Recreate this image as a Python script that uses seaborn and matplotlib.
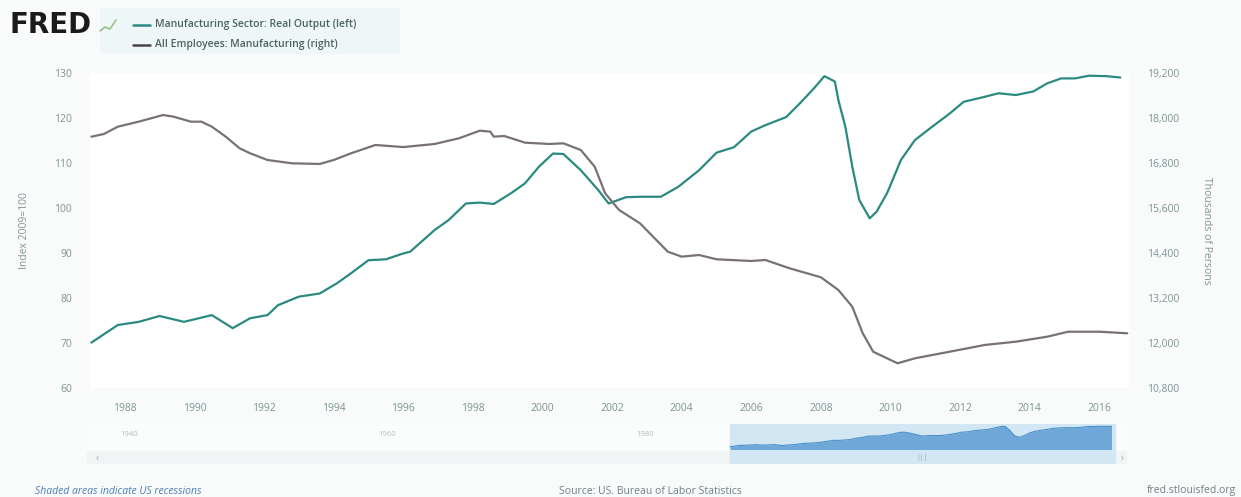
import numpy as np
import pandas as pd
import matplotlib
matplotlib.use("Agg")
import matplotlib.pyplot as plt
from matplotlib.lines import Line2D
from matplotlib.patches import Rectangle
from matplotlib.ticker import FuncFormatter
import seaborn as sns

# ---------------- data ----------------
out_years = [1987.04, 1987.8, 1988.4, 1989.0, 1989.7, 1990.5, 1991.1, 1991.6, 1992.1, 1992.4,
             1993.0, 1993.6, 1994.1, 1994.5, 1995.0, 1995.5, 1996.0, 1996.2, 1996.9, 1997.3,
             1997.8, 1998.2, 1998.6, 1999.1, 1999.5, 1999.9, 2000.3, 2000.6, 2001.1, 2001.6,
             2001.9, 2002.4, 2002.8, 2003.4, 2003.9, 2004.5, 2005.0, 2005.5, 2006.0, 2006.4,
             2007.0, 2007.4, 2007.8, 2008.1, 2008.4, 2008.5, 2008.7, 2008.9, 2009.1, 2009.4,
             2009.6, 2009.9, 2010.3, 2010.7, 2011.2, 2011.7, 2012.1, 2012.7, 2013.1, 2013.6,
             2014.1, 2014.5, 2014.9, 2015.3, 2015.7, 2016.2, 2016.6]
out_values = [70.1, 74.0, 74.7, 76.0, 74.7, 76.2, 73.3, 75.5, 76.2, 78.4,
              80.3, 81.0, 83.3, 85.5, 88.4, 88.6, 89.9, 90.3, 95.1, 97.3,
              101.0, 101.2, 100.9, 103.3, 105.5, 109.2, 112.1, 112.0, 108.4, 104.0,
              101.0, 102.4, 102.5, 102.5, 104.7, 108.4, 112.3, 113.5, 117.0, 118.4,
              120.2, 123.3, 126.6, 129.3, 128.1, 124.0, 118.1, 109.2, 101.8, 97.7,
              99.2, 103.3, 110.7, 115.1, 118.1, 121.0, 123.6, 124.7, 125.5, 125.1,
              125.9, 127.7, 128.8, 128.8, 129.4, 129.3, 129.0]

emp_years = [1987.04, 1987.4, 1987.8, 1988.4, 1989.1, 1989.4, 1989.9, 1990.2, 1990.5, 1990.9,
             1991.3, 1991.6, 1992.1, 1992.8, 1993.6, 1994.0, 1994.5, 1995.2, 1996.0, 1996.9,
             1997.6, 1998.2, 1998.5, 1998.6, 1998.9, 1999.5, 2000.2, 2000.6, 2001.1, 2001.5,
             2001.8, 2002.2, 2002.8, 2003.6, 2004.0, 2004.5, 2005.0, 2006.0, 2006.4, 2007.1,
             2008.0, 2008.5, 2008.9, 2009.2, 2009.5, 2010.2, 2010.7, 2011.7, 2012.7, 2013.6,
             2014.5, 2015.1, 2016.0, 2016.8]
emp_values = [17502, 17574, 17769, 17902, 18080, 18035, 17902, 17902, 17769, 17502,
              17192, 17059, 16880, 16792, 16774, 16880, 17059, 17280, 17225, 17307,
              17459, 17662, 17636, 17502, 17520, 17342, 17307, 17325, 17147, 16702,
              15992, 15547, 15192, 14435, 14302, 14347, 14232, 14187, 14214, 13992,
              13752, 13414, 12968, 12259, 11768, 11459, 11592, 11768, 11947, 12035,
              12168, 12301, 12301, 12259]

left_ticks = [60, 70, 80, 90, 100, 110, 120, 130]
right_ticks = [10800, 12000, 13200, 14400, 15600, 16800, 18000, 19200]
year_ticks = list(range(1988, 2017, 2))
nav_labels = [1940, 1960, 1980]

series_out = "Manufacturing Sector: Real Output (left)"
series_emp = "All Employees: Manufacturing (right)"
left_label = "Index 2009=100"
right_label = "Thousands of Persons"

# ---------------- style ----------------
sns.set_style("white")
plt.rcParams['font.family'] = ['Open Sans', 'DejaVu Sans']

W, H = 1241, 497
c_out = "#2b8a80"
c_emp = "#7a7272"
c_tick = "#7d9494"

fig = plt.figure(figsize=(W / 100, H / 100), dpi=100)
fig.patch.set_facecolor("#f9fbfb")

def fx(px):
    return px / W

def fy(py):
    return 1 - py / H

# main axes
ax = fig.add_axes([fx(90), fy(388), fx(1129 - 90), (388 - 73) / H])
ax.set_facecolor("white")
ax2 = ax.twinx()

df_out = pd.DataFrame({"year": out_years, "value": out_values})
df_emp = pd.DataFrame({"year": emp_years, "value": emp_values})

sns.lineplot(data=df_out, x="year", y="value", ax=ax, color=c_out, linewidth=1.6, legend=False)
sns.lineplot(data=df_emp, x="year", y="value", ax=ax2, color=c_emp, linewidth=1.6, legend=False)

ax.set_xlim(1987.0, 2016.85)
ax.set_ylim(60, 130)
ax2.set_ylim(10800, 19200)

ax.set_xticks(year_ticks)
ax.set_xticklabels([str(y) for y in year_ticks])
ax.set_yticks(left_ticks)
ax2.set_yticks(right_ticks)
ax2.yaxis.set_major_formatter(FuncFormatter(lambda v, p: f"{int(v):,}"))

for a in (ax, ax2):
    for s in a.spines.values():
        s.set_visible(False)
    a.grid(False)
    a.set_xlabel("")

ax.tick_params(axis="x", length=0, pad=11, labelsize=7.5, colors=c_tick)
ax.tick_params(axis="y", length=0, pad=13, labelsize=7.5, colors=c_tick)
ax2.tick_params(axis="y", length=0, pad=13, labelsize=7.5, colors=c_tick)

ax.set_ylabel(left_label, fontsize=7.5, color=c_tick, labelpad=14)
ax2.set_ylabel(right_label, fontsize=7.5, color=c_tick, rotation=270, labelpad=30)
ax.yaxis.set_label_coords(-(90 - 30) / (1129 - 90), 0.5)
ax2.yaxis.set_label_coords(1 + (1212 - 1129) / (1129 - 90), 0.5)

# ---------------- navigator ----------------
nav = fig.add_axes([fx(87), fy(464), fx(1127 - 87), (464 - 424) / H])
nav.set_facecolor("#fbfcfc")
nav.set_xlim(1937.2, 2017.8)
nav.set_ylim(20, 136)
nav.axhspan(20, 58, color="#f1f4f5", zorder=0)
nav.axvspan(1987.0, 2016.85, color="#d3e6f4", zorder=1)
nav.fill_between(df_out["year"], 62, df_out["value"], color="#6fa8d8", zorder=2, linewidth=0)
nav.plot(df_out["year"], df_out["value"], color="#4a90c8", linewidth=0.8, zorder=3)
for y in nav_labels:
    nav.text(y - 0.2, 105, str(y), fontsize=5.5, color="#b3bcc0", ha="left", va="center")
nav.text((1987.0 + 2016.85) / 2, 38, "|||", fontsize=5, color="#9aa8b0", ha="center", va="center")
nav.text(1938.0, 38, "‹", fontsize=7, color="#9aa8b0", ha="center", va="center")
nav.text(2017.4, 38, "›", fontsize=7, color="#9aa8b0", ha="center", va="center")
nav.set_xticks([])
nav.set_yticks([])
for s in nav.spines.values():
    s.set_visible(False)

# ---------------- header / legend ----------------
fig.patches.append(Rectangle((fx(100), fy(54)), fx(300), 46 / H, transform=fig.transFigure,
                             facecolor="#eef6f7", edgecolor="none", zorder=0))
fig.text(fx(10), fy(25), "FRED", fontsize=20, fontweight="black", color="#1a1a1a",
         ha="left", va="center", family=["DejaVu Sans"])
# small logo swoosh
fig.add_artist(Line2D([fx(100), fx(105), fx(110), fx(116)], [fy(31), fy(27), fy(29), fy(20)],
                      transform=fig.transFigure, color="#9bbf8a", linewidth=1.2))
fig.add_artist(Line2D([fx(133), fx(150)], [fy(25), fy(25)], transform=fig.transFigure,
                      color=c_out, linewidth=1.8))
fig.add_artist(Line2D([fx(133), fx(150)], [fy(45), fy(45)], transform=fig.transFigure,
                      color="#4a4444", linewidth=1.8))
fig.text(fx(155), fy(25), series_out, fontsize=7.5, fontweight="semibold", color="#4c6262",
         ha="left", va="center")
fig.text(fx(155), fy(45), series_emp, fontsize=7.5, fontweight="semibold", color="#4c6262",
         ha="left", va="center")

# ---------------- footer ----------------
fig.text(fx(35), fy(491), "Shaded areas indicate US recessions", fontsize=7.5, style="italic",
         color="#4a7db3", ha="left", va="center")
fig.text(fx(650), fy(491), "Source: US. Bureau of Labor Statistics", fontsize=7.5,
         color="#6f7f86", ha="center", va="center")
fig.text(fx(1236), fy(491), "fred.stlouisfed.org", fontsize=7.5, color="#6f7f86",
         ha="right", va="center")

fig.savefig("out.png", dpi=100, facecolor=fig.get_facecolor())
